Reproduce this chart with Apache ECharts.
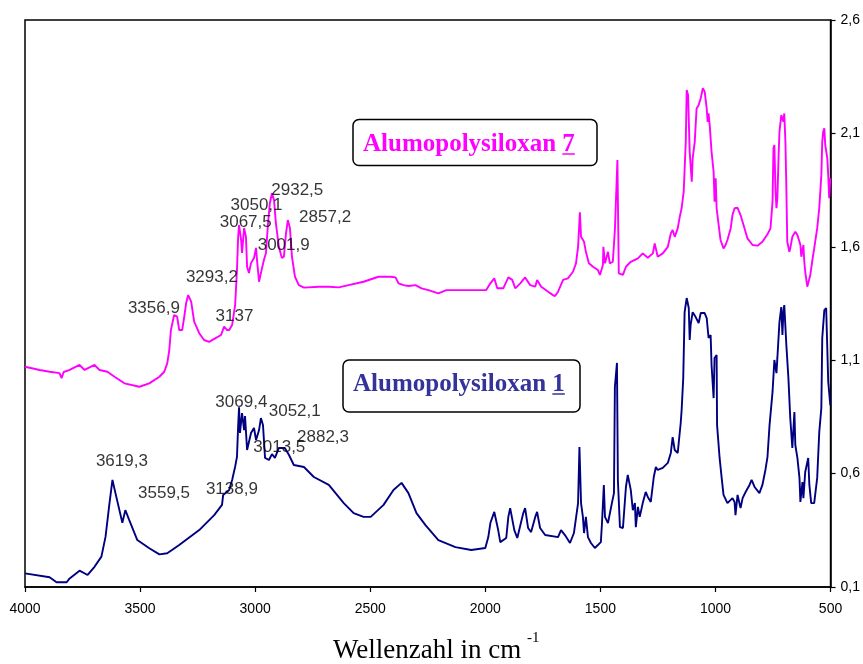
<!DOCTYPE html>
<html>
<head>
<meta charset="utf-8">
<script src="https://cdn.jsdelivr.net/npm/echarts@6/dist/echarts.min.js"></script>
<style>
html,body{margin:0;padding:0;background:#fff;}
#chart{width:863px;height:664px;}
</style>
</head>
<body>
<div id="chart"></div>
<script>
// Alumopolysiloxan 1 (navy)
const wn1 = [4000,3893,3863,3819,3806,3763,3728,3698,3668,3650,3633,3620,3607,3577,3564,3547,3512,3460,3416,3382,3330,3243,3178,3144,3139,3113,3100,3087,3079,3074,3070,3066,3057,3048,3044,3035,3018,3005,2996,2983,2975,2966,2957,2940,2927,2914,2897,2871,2853,2832,2788,2745,2680,2615,2572,2529,2498,2442,2399,2364,2334,2299,2260,2204,2130,2061,2000,1987,1978,1961,1944,1935,1909,1900,1892,1874,1861,1835,1827,1814,1801,1783,1775,1762,1740,1684,1671,1654,1632,1615,1597,1591,1584,1576,1571,1563,1554,1541,1524,1498,1493,1485,1480,1467,1450,1441,1437,1428,1424,1415,1402,1389,1381,1368,1359,1350,1346,1337,1329,1316,1303,1294,1281,1268,1259,1251,1229,1207,1194,1186,1177,1164,1151,1147,1140,1134,1125,1116,1112,1108,1099,1086,1073,1064,1047,1038,1030,1021,1017,1008,1004,995,993,982,973,965,948,926,917,913,904,891,882,869,852,843,830,809,796,783,774,765,752,744,735,731,722,714,709,705,701,692,683,675,666,657,653,644,635,631,622,618,610,597,592,584,571,558,549,540,536,527,519,510,501];
const abs1 = [0.160,0.143,0.121,0.121,0.138,0.172,0.153,0.189,0.234,0.322,0.469,0.572,0.514,0.383,0.439,0.395,0.307,0.271,0.244,0.249,0.285,0.351,0.417,0.462,0.506,0.528,0.572,0.630,0.674,0.807,0.892,0.779,0.867,0.792,0.854,0.704,0.779,0.801,0.748,0.792,0.845,0.814,0.669,0.660,0.686,0.669,0.713,0.713,0.682,0.638,0.629,0.585,0.550,0.470,0.426,0.409,0.409,0.462,0.528,0.559,0.514,0.426,0.373,0.307,0.276,0.263,0.272,0.320,0.382,0.431,0.351,0.298,0.316,0.409,0.448,0.351,0.316,0.426,0.448,0.360,0.342,0.409,0.431,0.360,0.329,0.320,0.351,0.329,0.294,0.338,0.470,0.717,0.470,0.409,0.338,0.409,0.320,0.294,0.272,0.298,0.382,0.550,0.409,0.382,0.470,0.514,0.982,1.088,0.572,0.364,0.360,0.541,0.594,0.528,0.439,0.470,0.364,0.453,0.409,0.470,0.519,0.497,0.475,0.585,0.629,0.616,0.625,0.647,0.691,0.761,0.704,0.691,0.823,0.880,1.021,1.312,1.374,1.330,1.189,1.255,1.312,1.290,1.264,1.308,1.308,1.286,1.198,1.211,1.079,0.933,1.110,1.123,0.814,0.669,0.581,0.506,0.470,0.492,0.475,0.417,0.506,0.448,0.492,0.519,0.550,0.572,0.541,0.514,0.550,0.616,0.673,0.814,0.960,1.101,1.043,1.110,1.268,1.334,1.211,1.312,1.343,1.167,1.021,0.845,0.713,0.871,0.726,0.669,0.581,0.475,0.563,0.492,0.607,0.669,0.550,0.470,0.470,0.581,0.783,0.889,1.198,1.321,1.330,1.004,0.902];

// Alumopolysiloxan 7 (magenta)
const wn7 = [4000,3936,3893,3850,3841,3832,3806,3763,3741,3698,3676,3642,3611,3568,3503,3460,3416,3395,3382,3373,3366,3352,3339,3330,3317,3308,3300,3291,3278,3265,3243,3222,3200,3174,3148,3135,3122,3113,3100,3087,3079,3074,3070,3061,3057,3048,3040,3035,3027,3018,3005,2996,2992,2983,2975,2962,2953,2944,2936,2927,2918,2910,2897,2884,2875,2866,2858,2849,2840,2827,2810,2788,2723,2680,2637,2594,2529,2464,2412,2390,2377,2355,2334,2303,2277,2247,2204,2169,1996,1978,1961,1948,1922,1900,1883,1870,1848,1827,1805,1783,1775,1757,1727,1706,1697,1684,1662,1641,1619,1606,1597,1589,1584,1571,1563,1550,1532,1511,1502,1489,1487,1480,1467,1459,1446,1437,1426,1420,1402,1389,1368,1337,1316,1294,1272,1264,1251,1229,1207,1194,1186,1177,1164,1155,1147,1138,1129,1125,1119,1112,1103,1099,1090,1082,1073,1064,1055,1047,1038,1034,1030,1025,1017,1008,1004,999,995,986,978,965,956,948,934,926,917,904,891,878,861,839,817,796,774,761,752,748,744,739,735,731,726,722,714,705,701,696,692,688,679,675,666,653,644,635,631,627,618,614,610,601,597,588,580,571,558,549,540,536,532,527,523,514,510,506,501];
const abs7 = [1.071,1.057,1.049,1.043,1.021,1.048,1.057,1.079,1.057,1.079,1.057,1.049,1.027,0.998,0.983,0.998,1.027,1.049,1.086,1.145,1.233,1.299,1.292,1.233,1.233,1.292,1.351,1.387,1.358,1.270,1.219,1.189,1.181,1.196,1.211,1.248,1.233,1.233,1.255,1.343,1.498,1.643,1.696,1.630,1.573,1.683,1.644,1.512,1.484,1.528,1.551,1.595,1.542,1.446,1.484,1.542,1.573,1.705,1.793,1.836,1.806,1.705,1.600,1.551,1.556,1.659,1.718,1.683,1.556,1.468,1.431,1.420,1.424,1.424,1.421,1.431,1.446,1.468,1.468,1.465,1.439,1.431,1.427,1.431,1.417,1.409,1.395,1.409,1.409,1.439,1.461,1.417,1.417,1.465,1.454,1.417,1.439,1.465,1.431,1.424,1.454,1.424,1.402,1.387,1.383,1.402,1.454,1.461,1.490,1.527,1.600,1.752,1.644,1.622,1.578,1.527,1.512,1.498,1.476,1.520,1.600,1.527,1.578,1.527,1.534,1.674,1.983,1.483,1.476,1.512,1.534,1.549,1.571,1.552,1.571,1.615,1.556,1.571,1.600,1.659,1.674,1.644,1.681,1.733,1.770,1.843,2.063,2.291,2.269,2.019,1.887,1.990,2.063,2.210,2.225,2.255,2.299,2.284,2.210,2.151,2.188,2.137,2.019,1.931,1.799,1.902,1.770,1.696,1.630,1.593,1.608,1.630,1.681,1.740,1.770,1.772,1.740,1.696,1.637,1.608,1.605,1.622,1.655,1.681,1.799,2.034,2.049,1.843,1.770,1.814,1.990,2.107,2.181,2.151,2.188,2.063,1.858,1.622,1.578,1.593,1.644,1.666,1.652,1.622,1.608,1.556,1.608,1.534,1.490,1.424,1.417,1.476,1.534,1.593,1.681,1.770,1.916,2.063,2.107,2.122,2.049,1.990,1.916,1.814,1.902];

// Peak annotations (text, anchor wavenumber, anchor absorbance)
const peakText7 = ['3356,9','3293,2','3137','3067,5','3050,1','2932,5','2857,2','3001,9'];
const peakWn7   = [3440,3188,3090,3041,2994,2817,2696,2876];
const peakAbs7  = [1.329,1.465,1.292,1.706,1.784,1.847,1.730,1.608];
const peakText1 = ['3619,3','3559,5','3138,9','3069,4','3052,1','3013,5','2882,3'];
const peakWn1   = [3579,3396,3101,3060,2828,2895,2705];
const peakAbs1  = [0.656,0.513,0.531,0.913,0.876,0.716,0.760];

// Axis ticks
const xMin = 500, xMax = 4000, xStep = 500;
const yMin = 0.1, yMax = 2.6, yStep = 0.5;

// Legend texts
const legendName = 'Alumopolysiloxan ';
const legendNum7 = '7';
const legendNum1 = '1';

const chart = echarts.init(document.getElementById('chart'), null, {renderer:'canvas'});

const zip = (a,b) => a.map((v,i)=>[v,b[i]]);
const labelData = (t,w,a) => t.map((s,i)=>({name:s, value:[w[i],a[i]]}));

const legendFont = 'bold 25px "Liberation Serif", "Times New Roman", serif';
const mctx = document.createElement('canvas').getContext('2d');
mctx.font = legendFont;
const nameW = mctx.measureText(legendName).width;
const numW = mctx.measureText('7').width;

function legend(boxX, boxY, boxW, boxH, textX, baseY, num, color){
  return [
    {type:'rect', shape:{x:boxX, y:boxY, width:boxW, height:boxH, r:6},
      style:{fill:'#fff', stroke:'#000', lineWidth:1.5}, z:10},
    {type:'text', style:{text:legendName + num, x:textX, y:baseY, verticalAlign:'bottom', align:'left',
      fill:color, font:legendFont}, z:11},
    {type:'line', shape:{x1:textX+nameW, y1:baseY-3, x2:textX+nameW+numW, y2:baseY-3},
      style:{stroke:color, lineWidth:1.5}, z:11}
  ];
}

const labelStyle = {
  show:true, position:'inside', formatter:'{b}',
  color:'#000', fontSize:17, fontFamily:'Liberation Sans, Arial, sans-serif'
};

chart.setOption({
  animation:false,
  backgroundColor:'#fff',
  grid:{left:25, top:20, right:30, bottom:77, show:true, borderColor:'#000', borderWidth:1.5},
  xAxis:{
    type:'value', inverse:true, min:xMin, max:xMax, interval:xStep,
    axisLine:{show:true, onZero:false, lineStyle:{color:'#000', width:1.5}},
    axisTick:{show:true, length:5, lineStyle:{color:'#000', width:1.2}},
    axisLabel:{color:'#000', fontSize:14, margin:15, fontFamily:'Liberation Sans, Arial, sans-serif',
      formatter:v=>String(Math.round(v))},
    splitLine:{show:false}
  },
  yAxis:{
    type:'value', position:'right', min:yMin, max:yMax, interval:yStep,
    axisLine:{show:true, lineStyle:{color:'#000', width:1.5}},
    axisTick:{show:true, length:5, lineStyle:{color:'#000', width:1.2}},
    axisLabel:{color:'#000', fontSize:14, margin:10, fontFamily:'Liberation Sans, Arial, sans-serif',
      formatter:v=>v.toFixed(1).replace('.', ',')},
    splitLine:{show:false}
  },
  series:[
    {type:'line', name:'Alumopolysiloxan 7', data:zip(wn7,abs7), showSymbol:false, symbol:'none',
      lineStyle:{color:'#FF00FF', width:1.9}, z:3},
    {type:'line', name:'Alumopolysiloxan 1', data:zip(wn1,abs1), showSymbol:false, symbol:'none',
      lineStyle:{color:'#000080', width:1.9}, z:3},
    {type:'scatter', data:labelData(peakText7,peakWn7,peakAbs7), symbolSize:0, silent:true, label:labelStyle, z:5},
    {type:'scatter', data:labelData(peakText1,peakWn1,peakAbs1), symbolSize:0, silent:true, label:labelStyle, z:5}
  ],
  graphic:[].concat(
    legend(353, 119.5, 244, 46, 363, 157, legendNum7, '#FF00FF'),
    legend(343, 360, 237, 52, 353, 397, legendNum1, '#333399'),
    [
      {type:'text', style:{text:'Wellenzahl in cm', x:333, y:651, verticalAlign:'middle', align:'left',
        fill:'#000', font:'27px "Liberation Serif", "Times New Roman", serif'}, z:11},
      {type:'text', style:{text:'-1', x:527, y:638, verticalAlign:'middle', align:'left',
        fill:'#000', font:'15px "Liberation Serif", "Times New Roman", serif'}, z:11}
    ]
  )
});
</script>
</body>
</html>
